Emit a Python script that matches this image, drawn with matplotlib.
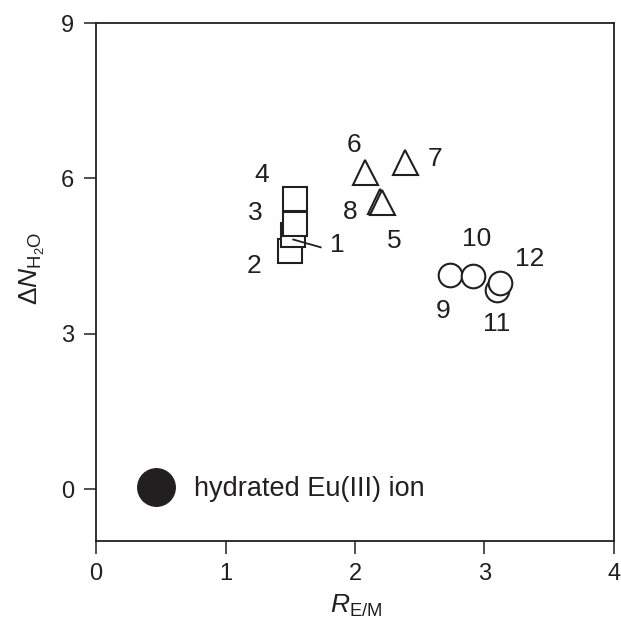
import numpy as np
import matplotlib
matplotlib.use("Agg")
import matplotlib.pyplot as plt

plt.rcParams['font.family'] = ['Liberation Sans', 'DejaVu Sans']
plt.rcParams['mathtext.fontset'] = 'custom'
plt.rcParams['mathtext.rm'] = 'Liberation Sans'
plt.rcParams['mathtext.it'] = 'Liberation Sans:italic'

INK = '#231f20'

# complexes 1-4 (squares), 5-8 (triangles), 9-12 (circles)
sq_id = ['1', '2', '3', '4']
sq_x = [1.52, 1.50, 1.54, 1.54]
sq_y = [4.90, 4.59, 5.12, 5.60]

tri_id = ['5', '6', '7', '8']
tri_x = [2.21, 2.08, 2.39, 2.19]
tri_y = [5.54, 6.13, 6.31, 5.56]

cir_id = ['9', '10', '11', '12']
cir_x = [2.73, 2.91, 3.10, 3.12]
cir_y = [4.14, 4.12, 3.85, 3.98]

# hydrated ion
ion_x = [0.46]
ion_y = [0.05]

# label positions (data coords)
lab_pos = {
    '1': (1.86, 4.71), '2': (1.22, 4.30), '3': (1.23, 5.33), '4': (1.28, 6.06),
    '5': (2.30, 4.79), '6': (1.99, 6.64), '7': (2.62, 6.37), '8': (1.96, 5.35),
    '9': (2.68, 3.44), '10': (2.94, 4.83), '11': (3.09, 3.19), '12': (3.35, 4.44),
}

fig = plt.figure(figsize=(6.21, 6.36), dpi=100)
ax = fig.add_axes([0.1546, 0.1494, 0.8341, 0.8144])

# draw back to front so overlaps look right
for i in [1, 0, 2, 3]:
    ax.plot(sq_x[i], sq_y[i], 's', ms=16.8, mfc='white', mec=INK, mew=1.5)
for i in [3, 0, 1, 2]:
    ax.plot(tri_x[i], tri_y[i], '^', ms=18, mfc='white', mec=INK, mew=1.5)
for i in [0, 1, 2, 3]:
    ax.plot(cir_x[i], cir_y[i], 'o', ms=17, mfc='white', mec=INK, mew=1.5)

ax.plot(ion_x, ion_y, 'o', ms=27, color=INK)
ax.text(0.76, 0.0, 'hydrated Eu(III) ion', fontsize=19.5, color=INK, va='center', ha='left')

# leader line for 1
ax.plot([1.523, 1.735], [4.82, 4.67], color=INK, lw=1.3)

for k, (lx, ly) in lab_pos.items():
    ax.text(lx, ly, k, fontsize=19, color=INK, ha='center', va='center')

ax.set_xlim(0, 4)
ax.set_ylim(-1, 9)
ax.set_xticks([0, 1, 2, 3, 4])
ax.set_yticks([0, 3, 6, 9])
ax.tick_params(direction='out', length=9, width=1.1, labelsize=17, colors=INK, pad=7)
for s in ax.spines.values():
    s.set_linewidth(1.3)
    s.set_color(INK)

ax.set_xlabel(r'$\mathit{R}_{\mathrm{E/M}}$', fontsize=19, color=INK)
ax.xaxis.set_label_coords(0.502, -0.1)
ax.set_ylabel(r'$\Delta\mathit{N}_{\mathrm{H_2O}}$', fontsize=19, color=INK)
ax.yaxis.set_label_coords(-0.095, 0.527)

fig.savefig('out.png', dpi=100)
